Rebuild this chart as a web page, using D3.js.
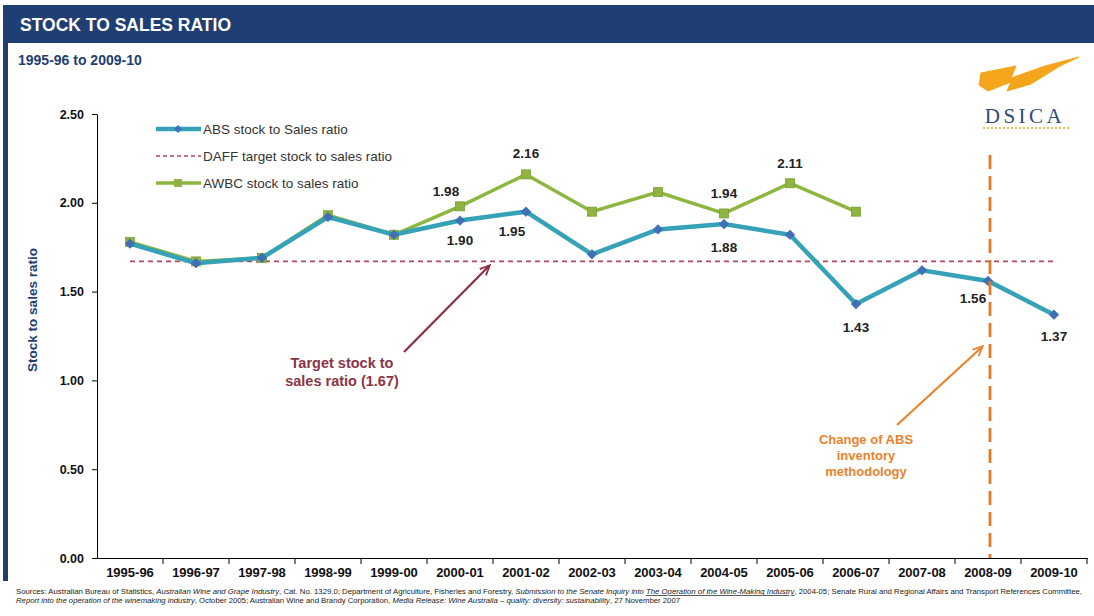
<!DOCTYPE html>
<html>
<head>
<meta charset="utf-8">
<script src="https://cdn.jsdelivr.net/npm/d3@7"></script>
<style>
  html, body { margin: 0; padding: 0; background: #ffffff; }
  svg { display: block; font-family: Arial, "Liberation Sans", sans-serif; }
</style>
</head>
<body>
<svg id="chart" width="1094" height="616"></svg>
<script>
// Financial years on the category axis
const years = ["1995-96","1996-97","1997-98","1998-99","1999-00","2000-01","2001-02",
  "2002-03","2003-04","2004-05","2005-06","2006-07","2007-08","2008-09","2009-10"];

// ABS stock to sales ratio
const absRatio = [1.77,1.66,1.69,1.92,1.82,1.90,1.95,1.71,1.85,1.88,1.82,1.43,1.62,1.56,1.37];

// AWBC stock to sales ratio (no data after 2006-07)
const awbcRatio = [1.78,1.67,1.69,1.93,1.82,1.98,2.16,1.95,2.06,1.94,2.11,1.95,null,null,null];

// DAFF target stock to sales ratio
const dafTarget = 1.67;
const dafRatio = years.map(() => dafTarget);

// Y axis ticks
const yTicks = [0, 0.5, 1.0, 1.5, 2.0, 2.5];

// Labelled values: [year, dx, dy]
const absLabels = [["2000-01",0,24],["2001-02",-14,24],["2004-05",0,28],["2006-07",0,28],["2008-09",-15,22],["2009-10",0,26]];
const awbcLabels = [["2000-01",-14,-10],["2001-02",0,-16],["2004-05",0,-15],["2005-06",0,-15]];

const svg = d3.select("#chart");
const W = 1094, H = 616;

// Frame: header bar and left rule
svg.append("rect").attr("x", 3).attr("y", 5).attr("width", W - 3).attr("height", 38).attr("fill", "#1F3F74");
svg.append("rect").attr("x", 3).attr("y", 43).attr("width", 5).attr("height", 538).attr("fill", "#1F3F74");
svg.append("text").attr("x", 20).attr("y", 31).attr("fill", "#ffffff")
  .attr("font-size", 17.5).attr("font-weight", "bold").text("STOCK TO SALES RATIO");
svg.append("text").attr("x", 18).attr("y", 65).attr("fill", "#1F3F74")
  .attr("font-size", 14).attr("font-weight", "bold").text("1995-96 to 2009-10");

// Logo
svg.append("path")
  .attr("d", "M981,73 L1016,66 L1011,78 L1045,66 L1079,57 L1060,66 L1031,84 L1007,91 L1011,82 L988,91 L979,85 Z")
  .attr("fill", "#F5A51C").attr("stroke", "#F5A51C").attr("stroke-width", 1).attr("stroke-linejoin", "round");
svg.append("text").attr("x", 1025).attr("y", 123).attr("text-anchor", "middle")
  .attr("font-family", "'Liberation Serif', 'DejaVu Serif', serif").attr("font-size", 21)
  .attr("letter-spacing", 3.5).attr("fill", "#2E4C7C").text("DSICA");
svg.append("line").attr("x1", 983).attr("x2", 1070).attr("y1", 128).attr("y2", 128)
  .attr("stroke", "#E6C24A").attr("stroke-width", 1.8).attr("stroke-dasharray", "2,2");

// Scales
const x = d3.scaleBand().domain(years).range([97, 1087]);
const y = d3.scaleLinear().domain([0, 2.5]).range([558, 114]);
const cx = d => x(d) + x.bandwidth() / 2;

// Axes
const yAxis = svg.append("g").attr("transform", "translate(97,0)")
  .call(d3.axisLeft(y).tickValues(yTicks).tickFormat(d3.format(".2f")).tickSize(5).tickSizeOuter(0));
yAxis.select(".domain").attr("stroke", "#000");
yAxis.selectAll("text").attr("font-size", 12.5).attr("font-weight", "bold").attr("fill", "#111")
  .attr("font-family", "Arial, 'Liberation Sans', sans-serif").attr("dx", -5);

const xAxis = svg.append("g").attr("transform", "translate(0,558)")
  .call(d3.axisBottom(x).tickSize(0).tickSizeOuter(0));
xAxis.select(".domain").attr("stroke", "#000");
xAxis.selectAll("text").attr("font-size", 13).attr("font-weight", "bold").attr("fill", "#111")
  .attr("font-family", "Arial, 'Liberation Sans', sans-serif").attr("dy", "1.25em");
// Tick marks at the category boundaries
svg.append("g").selectAll("line").data(years.slice(1).concat(["_end"]))
  .join("line")
  .attr("x1", d => d === "_end" ? x.range()[1] : x(d))
  .attr("x2", d => d === "_end" ? x.range()[1] : x(d))
  .attr("y1", 558).attr("y2", 564).attr("stroke", "#000");

svg.append("text").attr("transform", "translate(37,310) rotate(-90)")
  .attr("text-anchor", "middle").attr("fill", "#1F3F74").attr("font-size", 13.5)
  .attr("font-weight", "bold").text("Stock to sales ratio");

// Series lines
const line = d3.line().defined(d => d.v != null).x(d => cx(d.k)).y(d => y(d.v));
const toPts = arr => years.map((k, i) => ({k, v: arr[i]}));

svg.append("path").datum(toPts(dafRatio)).attr("d", line)
  .attr("fill", "none").attr("stroke", "#B2475A").attr("stroke-width", 1.6).attr("stroke-dasharray", "5,4");

svg.append("path").datum(toPts(awbcRatio)).attr("d", line)
  .attr("fill", "none").attr("stroke", "#8DB63E").attr("stroke-width", 3.5);
svg.append("g").selectAll("rect").data(toPts(awbcRatio).filter(d => d.v != null))
  .join("rect")
  .attr("x", d => cx(d.k) - 4.5).attr("y", d => y(d.v) - 4.5).attr("width", 9).attr("height", 9)
  .attr("fill", "#8FB43F").attr("stroke", "#7A9E32").attr("stroke-width", 0.8);

svg.append("path").datum(toPts(absRatio)).attr("d", line)
  .attr("fill", "none").attr("stroke", "#35A2B8").attr("stroke-width", 4.5);
svg.append("g").selectAll("path").data(toPts(absRatio))
  .join("path")
  .attr("transform", d => `translate(${cx(d.k)},${y(d.v)})`)
  .attr("d", d3.symbol(d3.symbolDiamond2, 60))
  .attr("fill", "#3F70B6").attr("stroke", "#3565A8").attr("stroke-width", 0.5);

// Value labels
const valueLabel = (arr, list) => list.forEach(([k, dx, dy]) => {
  const v = arr[years.indexOf(k)];
  svg.append("text").attr("x", cx(k) + dx).attr("y", y(v) + dy)
    .attr("text-anchor", "middle").attr("font-size", 13.5).attr("font-weight", "bold")
    .attr("fill", "#222").text(d3.format(".2f")(v));
});
valueLabel(absRatio, absLabels);
valueLabel(awbcRatio, awbcLabels);

// Methodology change marker
const changeX = cx("2008-09") + 2;
svg.append("line").attr("x1", changeX).attr("x2", changeX).attr("y1", 155).attr("y2", 558)
  .attr("stroke", "#E07B26").attr("stroke-width", 2.8).attr("stroke-dasharray", "14,7");

// Arrows
const defs = svg.append("defs");
const marker = (id, color) => defs.append("marker").attr("id", id).attr("viewBox", "0 0 10 10")
  .attr("refX", 8).attr("refY", 5).attr("markerWidth", 5).attr("markerHeight", 5)
  .attr("orient", "auto").append("path").attr("d", "M0,1 L9,5 L0,9").attr("fill", "none")
  .attr("stroke", color).attr("stroke-width", 1.6);
marker("arrRed", "#8A2F42");
marker("arrOrange", "#E8832C");

svg.append("line").attr("x1", 404).attr("y1", 352).attr("x2", 489).attr("y2", 266)
  .attr("stroke", "#8A2F42").attr("stroke-width", 2.2).attr("marker-end", "url(#arrRed)");
svg.append("line").attr("x1", 897).attr("y1", 425).attr("x2", 982).attr("y2", 347)
  .attr("stroke", "#E8832C").attr("stroke-width", 2.2).attr("marker-end", "url(#arrOrange)");

const note = (lines, xPos, y0, lh, color, size) => {
  const t = svg.append("text").attr("text-anchor", "middle").attr("fill", color)
    .attr("font-size", size).attr("font-weight", "bold");
  lines.forEach((s, i) => t.append("tspan").attr("x", xPos).attr("y", y0 + i * lh).text(s));
};
note(["Target stock to", "sales ratio (1.67)"], 342, 368, 18, "#8A3446", 14.5);
note(["Change of ABS", "inventory", "methodology"], 866, 444, 16, "#E8832C", 13);

// Legend
const legend = [
  {label: "ABS stock to Sales ratio", color: "#35A2B8", w: 4.5, dash: null, mark: "diamond"},
  {label: "DAFF target stock to sales ratio", color: "#B2475A", w: 1.6, dash: "4,3", mark: null},
  {label: "AWBC stock to sales ratio", color: "#8DB63E", w: 3.5, dash: null, mark: "square"}
];
const lg = svg.append("g");
legend.forEach((d, i) => {
  const ly = 129 + i * 27;
  lg.append("line").attr("x1", 156).attr("x2", 201).attr("y1", ly).attr("y2", ly)
    .attr("stroke", d.color).attr("stroke-width", d.w).attr("stroke-dasharray", d.dash);
  if (d.mark === "diamond") {
    lg.append("path").attr("transform", `translate(178,${ly})`).attr("d", d3.symbol(d3.symbolDiamond2, 40))
      .attr("fill", "#3F70B6");
  } else if (d.mark === "square") {
    lg.append("rect").attr("x", 174).attr("y", ly - 4).attr("width", 8).attr("height", 8).attr("fill", "#8FB43F");
  }
  lg.append("text").attr("x", 203).attr("y", ly + 5).attr("font-size", 13.5).attr("fill", "#333").text(d.label);
});

// Sources
const src1 = [
  ["Sources: Australian Bureau of Statistics, ", ""],
  ["Australian Wine and Grape Industry", "italic"],
  [", Cat. No. 1329.0; Department of Agriculture, Fisheries and Forestry, ", ""],
  ["Submission to the Senate Inquiry into ", "italic"],
  ["The Operation of the Wine-Making Industry", "underline"],
  [", 2004-05; Senate Rural and Regional Affairs and Transport References Committee,", ""]
];
const src2 = [
  ["Report into the operation of the winemaking industry", "italic"],
  [", October 2005; Australian Wine and Brandy Corporation, ", ""],
  ["Media Release: Wine Australia \u2013 quality: diversity: sustainability", "italic"],
  [", 27 November 2007", ""]
];
const srcLine = (parts, yPos, len) => {
  const t = svg.append("text").attr("x", 16).attr("y", yPos).attr("font-size", 7.3).attr("fill", "#222");
  if (len) t.attr("textLength", len).attr("lengthAdjust", "spacingAndGlyphs");
  parts.forEach(([s, st]) => {
    const sp = t.append("tspan").text(s);
    if (st === "italic" || st === "underline") sp.attr("font-style", "italic");
    if (st === "underline") sp.attr("text-decoration", "underline");
  });
};
srcLine(src1, 594, 1066);
srcLine(src2, 603, 664);
</script>
</body>
</html>
